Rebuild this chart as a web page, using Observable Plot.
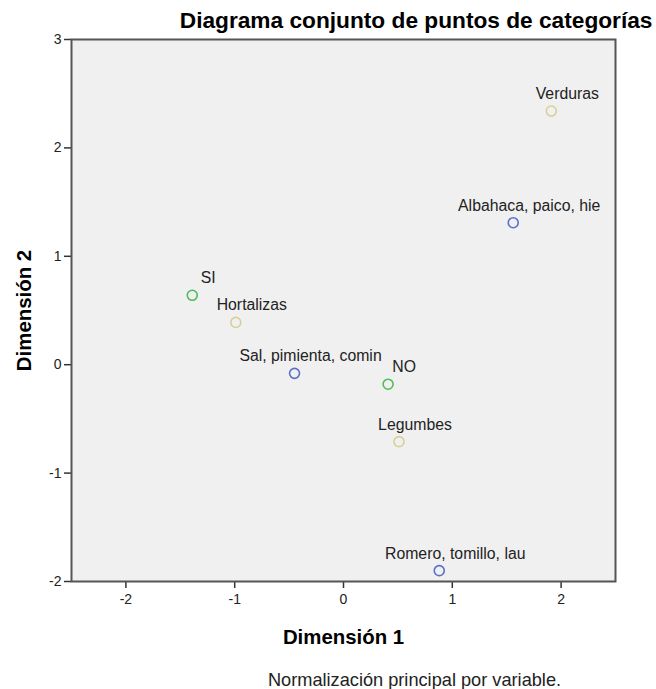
<!DOCTYPE html>
<html>
<head>
<meta charset="utf-8">
<script src="https://cdn.jsdelivr.net/npm/d3@7"></script>
<script src="https://cdn.jsdelivr.net/npm/@observablehq/plot@0.6"></script>
<style>
  html, body { margin: 0; padding: 0; background: #fff; }
  #chart svg { display: block; }
</style>
</head>
<body>
<div id="chart"></div>
<script>
const labels = ["Verduras", "Albahaca, paico, hie", "SI", "Hortalizas", "Sal, pimienta, comin", "NO", "Legumbes", "Romero, tomillo, lau"];
const dim1 = [1.91, 1.56, -1.39, -0.99, -0.45, 0.41, 0.51, 0.88];
const dim2 = [2.34, 1.31, 0.64, 0.39, -0.08, -0.18, -0.71, -1.90];
const groups = ["Verdura", "Condimento", "Consumo", "Verdura", "Condimento", "Consumo", "Verdura", "Condimento"];
const groupNames = ["Verdura", "Condimento", "Consumo"];
const groupColors = ["#d8cf98", "#5a70cc", "#4dbd5b"];
const xTicks = [-2, -1, 0, 1, 2];
const yTicks = [-2, -1, 0, 1, 2, 3];
const titleText = "Diagrama conjunto de puntos de categorías";
const xTitle = "Dimensión 1";
const yTitle = "Dimensión 2";
const captionText = "Normalización principal por variable.";

const data = labels.map((l, i) => ({label: l, x: dim1[i], y: dim2[i], g: groups[i]}));
const font = "'Liberation Sans', Arial, sans-serif";
const fmt = d => String(d).replace("\u2212", "-");

const chart = Plot.plot({
  width: 656,
  height: 689,
  marginLeft: 71,
  marginRight: 41,
  marginTop: 39,
  marginBottom: 108,
  style: {fontFamily: font, fontSize: "14px", color: "#222", background: "#fff"},
  x: {domain: [-2.5, 2.5], ticks: xTicks},
  y: {domain: [-2, 3], ticks: yTicks},
  color: {domain: groupNames, range: groupColors},
  marks: [
    Plot.frame({fill: "#f0f0f0", stroke: "none"}),
    Plot.axisX({ticks: xTicks, tickSize: 7, tickPadding: 6, tickFormat: fmt, label: null, stroke: "#333", strokeWidth: 1.5, fontSize: 14, fill: "#222"}),
    Plot.axisY({ticks: yTicks, tickSize: 7, tickPadding: 3, tickFormat: fmt, label: null, stroke: "#333", strokeWidth: 1.5, fontSize: 14, fill: "#222"}),
    Plot.frame({stroke: "#555", strokeWidth: 2}),
    Plot.dot(data, {x: "x", y: "y", stroke: "g", r: 5, strokeWidth: 1.6, fill: "none"}),
    Plot.text(data, {x: "x", y: "y", text: "label", dx: 16, dy: -12, lineAnchor: "bottom", fill: "#222", fontSize: 15.8}),
    Plot.text([titleText], {frameAnchor: "top-right", dx: 37, dy: -12, lineAnchor: "bottom", text: d => d, fontSize: 22.7, fontWeight: "bold", fill: "#000", textAnchor: "end"}),
    Plot.text([xTitle], {frameAnchor: "bottom", dy: 62, lineAnchor: "bottom", text: d => d, fontSize: 20.4, fontWeight: "bold", fill: "#000"}),
    Plot.text([yTitle], {frameAnchor: "left", dx: -47, rotate: -90, textAnchor: "middle", text: d => d, fontSize: 20.4, fontWeight: "bold", fill: "#000"}),
    Plot.text([captionText], {frameAnchor: "bottom", dx: 71, dy: 104, lineAnchor: "bottom", textAnchor: "middle", text: d => d, fontSize: 18.2, fill: "#222"})
  ]
});
document.getElementById("chart").appendChild(chart);
</script>
</body>
</html>
